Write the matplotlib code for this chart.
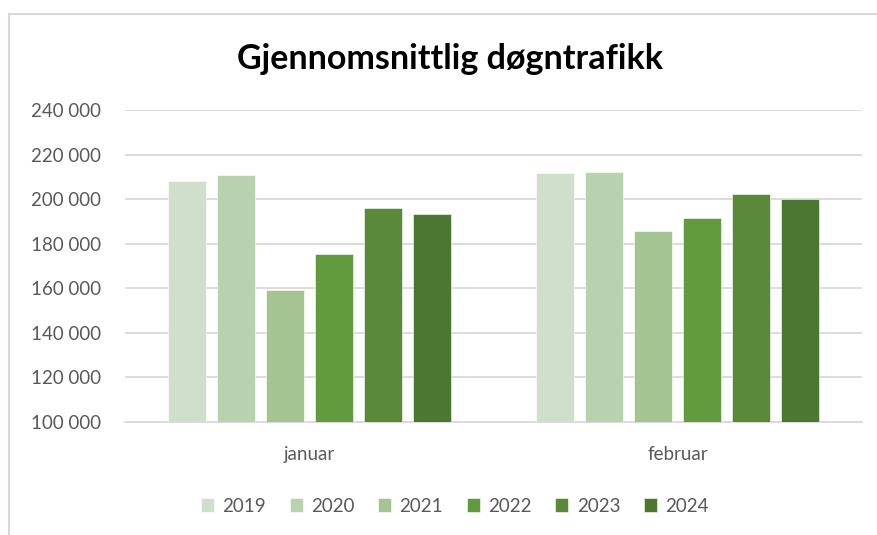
import matplotlib.pyplot as plt
from matplotlib.lines import Line2D
import numpy as np

plt.rcParams["font.family"] = ["Lato", "DejaVu Sans"]

months = ["januar", "februar"]
years = ["2019", "2020", "2021", "2022", "2023", "2024"]
values = {
    "2019": [208000, 211600],
    "2020": [211000, 212100],
    "2021": [159300, 185700],
    "2022": [175600, 191500],
    "2023": [196200, 202200],
    "2024": [193400, 199900],
}
colors = ["#d0dfc9", "#b8d2ae", "#a4c591", "#629a3e", "#5a8a39", "#4c7730"]

fig = plt.figure(figsize=(8.78, 5.35), dpi=100)
ax = fig.add_axes([0.1424, 0.2112, 0.8394, 0.5832])

x = np.arange(len(months))
pitch = 0.133
width = 0.104
for i, year in enumerate(years):
    offset = (i - 2.5) * pitch
    ax.bar(x + offset, values[year], width, color=colors[i], label=year,
           edgecolor="white", linewidth=0.4, zorder=3)

ax.set_xlim(-0.5, 1.5)
ax.set_ylim(100000, 240000)
ax.set_yticks(range(100000, 240001, 20000))
ax.set_yticklabels([f"{v // 1000} 000" for v in range(100000, 240001, 20000)])
ax.set_xticks(x)
ax.set_xticklabels(months)
ax.tick_params(axis="both", length=0, labelsize=13.5, labelcolor="#595959")
ax.tick_params(axis="y", pad=17)
ax.tick_params(axis="x", pad=17)
ax.grid(axis="y", color="#d9d9d9", linewidth=1.3, zorder=0)
for s in ["top", "right", "left"]:
    ax.spines[s].set_visible(False)
ax.spines["bottom"].set_color("#d9d9d9")
ax.spines["bottom"].set_linewidth(1.3)

fig.text(0.513, 0.89, "Gjennomsnittlig døgntrafikk", ha="center", va="center",
         fontsize=24.5, fontweight="bold", color="black")

leg = fig.legend(loc="center", bbox_to_anchor=(0.518, 0.054), ncol=6,
                 frameon=False, fontsize=13.5, handlelength=0.7,
                 handleheight=0.7, handletextpad=0.45, columnspacing=1.25)
for t in leg.get_texts():
    t.set_color("#595959")

# chart frame
fig.add_artist(Line2D([9.5 / 878, 9.5 / 878], [0, 1 - 14 / 535],
                      transform=fig.transFigure, color="#d9d9d9", linewidth=1.5))
fig.add_artist(Line2D([9.5 / 878, 1], [1 - 14 / 535, 1 - 14 / 535],
                      transform=fig.transFigure, color="#d9d9d9", linewidth=1.5))

fig.savefig("out.png", dpi=100)
